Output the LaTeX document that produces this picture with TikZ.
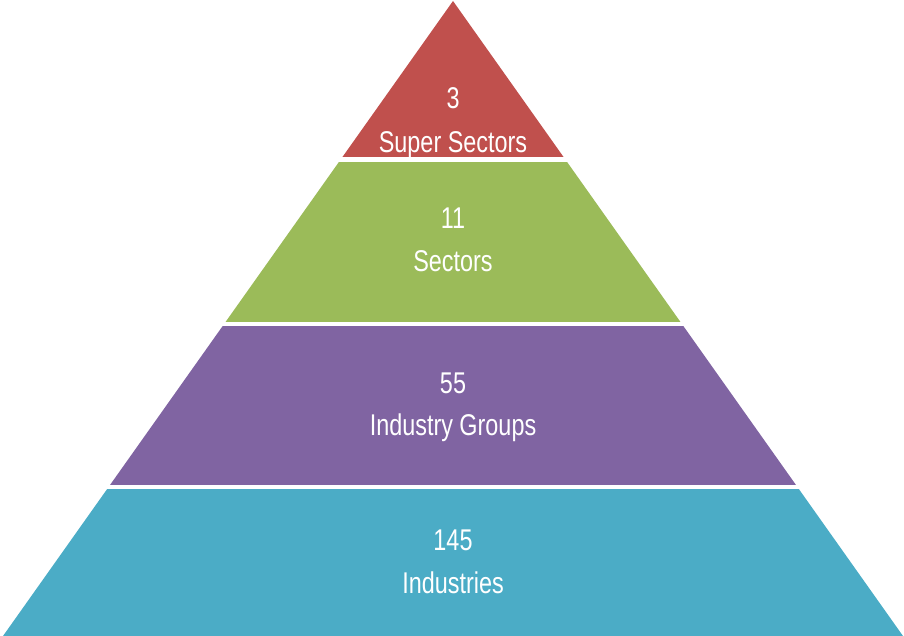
\documentclass[tikz,border=0pt]{standalone}
\usepackage{fontspec}
\setmainfont{Liberation Sans}[FakeStretch=0.78]
\definecolor{tred}{HTML}{C0504D}
\definecolor{tgreen}{HTML}{9BBB59}
\definecolor{tpurple}{HTML}{8064A2}
\definecolor{tblue}{HTML}{4BACC6}
\begin{document}
\begin{tikzpicture}[x=1pt,y=-1pt,
  lbl/.style={text=white,anchor=base,inner sep=0pt,font=\fontsize{30}{36}\selectfont}]
\useasboundingbox (0,0) rectangle (904,636);
\coordinate (apex) at (453,1);
\coordinate (bl) at (3,636);
\coordinate (br) at (903,636);
\foreach \ya/\yb/\col in {0/157/tred,163/321/tgreen,326/484/tpurple,489/637/tblue}{
  \begin{scope}
    \clip (0,\ya) rectangle (904,\yb);
    \fill[\col] (apex) -- (bl) -- (br) -- cycle;
  \end{scope}
}
\node[lbl] (n1) at (453,109) {3};
\node[lbl] (t1) at (453,153) {Super Sectors};
\node[lbl] (n2) at (453,229) {11};
\node[lbl] (t2) at (453,272) {Sectors};
\node[lbl] (n3) at (453,393) {55};
\node[lbl] (t3) at (453,435) {Industry Groups};
\node[lbl] (n4) at (453,550) {145};
\node[lbl] (t4) at (453,593) {Industries};
\end{tikzpicture}
\end{document}
